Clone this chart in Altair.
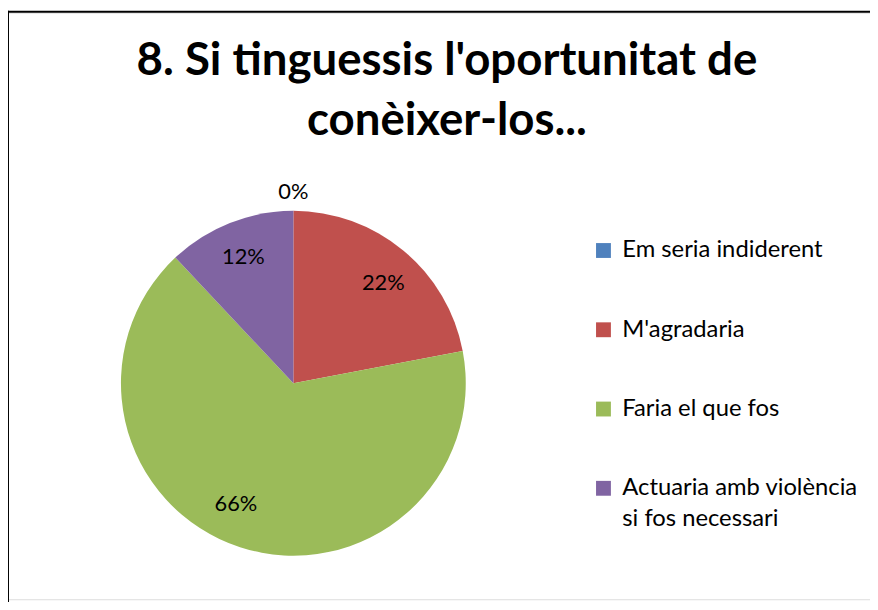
import altair as alt
import pandas as pd

# ---- data ----
categories = [
    "Em seria indiderent",
    "M'agradaria",
    "Faria el que fos",
    "Actuaria amb violència si fos necessari",
]
percent = [0, 22, 66, 12]
colors = ["#4F81BD", "#C0504D", "#9BBB59", "#8064A2"]
title_lines = ["8. Si tinguessis l'oportunitat de", "conèixer-los..."]
wrapped_label = ["Actuaria amb violència", "si fos necessari"]

df = pd.DataFrame({"cat": categories, "pct": percent, "idx": list(range(len(categories)))})
df["label"] = [f"{p}%" for p in percent]

# ---- layout ----
W, H = 870, 592
CX, CY = 288, 374
R = 174
FONT = "Lato"

color = alt.Color(
    "cat:N",
    scale=alt.Scale(domain=categories, range=colors),
    legend=alt.Legend(
        title=None,
        orient="none",
        legendX=589,
        legendY=228,
        symbolType="square",
        symbolSize=225,
        symbolStrokeWidth=0,
        labelFont=FONT,
        labelFontSize=24,
        labelColor="black",
        labelOffset=7,
        labelLimit=400,
        rowPadding=56,
        labelExpr=(
            f"datum.label == '{categories[3]}' ? "
            f"['{wrapped_label[0]}', '{wrapped_label[1]}'] : datum.label"
        ),
    ),
)

pie = alt.Chart(df).mark_arc(radius=R, strokeWidth=0).encode(
    theta=alt.Theta("pct:Q", stack=True, scale=alt.Scale(domain=[0, 100])),
    order=alt.Order("idx:Q"),
    color=color,
    x=alt.value(CX),
    y=alt.value(CY),
)

lab_base = (
    alt.Chart(df)
    .transform_window(cum="sum(pct)", sort=[alt.SortField("idx")])
    .transform_calculate(mid="datum.cum - datum.pct / 2")
)

def label_layer(filter_expr, radius, theta_offset=0.0):
    return lab_base.transform_filter(filter_expr).mark_text(
        font=FONT, fontSize=22, color="black", thetaOffset=theta_offset
    ).encode(
        theta=alt.Theta("mid:Q", stack=None, scale=alt.Scale(domain=[0, 100])),
        radius=alt.value(radius),
        text="label:N",
        x=alt.value(CX),
        y=alt.value(CY),
    )

lab_out = label_layer("datum.pct == 0", 193)
lab_in = label_layer("datum.pct > 0 && datum.idx == 3", 137)
lab_red = label_layer("datum.idx == 1", 136, 0.04)
lab_big = label_layer("datum.idx == 2", 135, 0.13)

border = alt.Chart(alt.Data(values=[{}])).mark_rule(color="black", strokeWidth=2)
left_rule = border.encode(x=alt.value(0), y=alt.value(-2), y2=alt.value(H + 10))
top_rule = border.encode(y=alt.value(-1), x=alt.value(-1), x2=alt.value(W + 10))

chart = (
    alt.layer(pie, lab_out, lab_in, lab_red, lab_big, left_rule, top_rule)
    .properties(
        width=W,
        height=H,
        autosize=alt.AutoSizeParams(type="none"),
        padding={"left": 0, "top": 2, "right": 0, "bottom": 0},
        background="white",
        title=alt.TitleParams(
            text=title_lines,
            orient="top",
            anchor="middle",
            frame="group",
            baseline="alphabetic",
            offset=-172,
            dx=8,
            font=FONT,
            fontSize=46,
            fontWeight="bold",
            color="black",
            lineHeight=60,
        ),
    )
    .configure_view(fill="#D9D9D9", stroke=None)
    .configure(style={"guide-label": {"lineHeight": 31}})
)

chart.save("out.html", embed_options={"renderer": "svg", "actions": False})
